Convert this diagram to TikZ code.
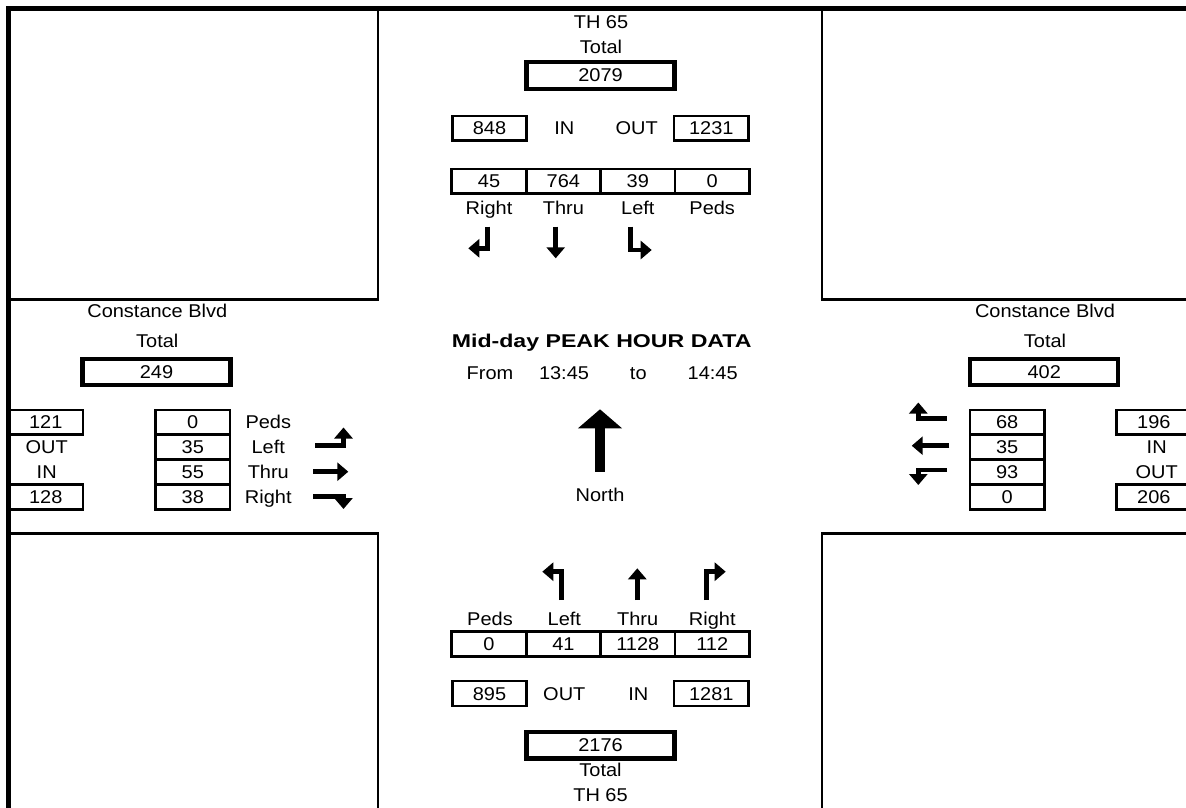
\documentclass[tikz,border=0pt]{standalone}
\usepackage{fontspec}
\setmainfont[FakeStretch=1.08]{Liberation Sans}
\newfontfamily\titlefont[FakeStretch=1.25]{Liberation Sans}
\usetikzlibrary{arrows.meta}

\tikzset{
  lbl/.style={inner sep=0pt, text height=13pt, text depth=0pt},
  cell/.style={lbl, draw, line width=2.7pt, minimum width=74.4pt, minimum height=24.8pt},
  totalbox/.style={lbl, draw, line width=4.3pt, minimum width=148pt, minimum height=26.5pt},
  turn/.style={line width=4.5pt, -{Triangle[length=11pt,width=18pt]}},
  wall/.style={line width=2.7pt},
  border/.style={line width=5pt}
}

\begin{document}
\begin{tikzpicture}[x=1pt, y=-1pt, font=\fontsize{18.5}{20}\selectfont]
                \useasboundingbox (0,0) rectangle (1186,808);

                \draw[border] (8.5,812) -- (8.5,8.5) -- (1190,8.5);
                \draw[wall] (8.5,299.3) -- (378,299.3) -- (378,8.5);
                \draw[wall] (822,8.5) -- (822,299.3) -- (1190,299.3);
                \draw[wall] (8.5,533.5) -- (378,533.5) -- (378,812);
                \draw[wall] (1190,533.5) -- (822,533.5) -- (822,812);

                \node[lbl] (nName) at (601,22) {TH 65};
                \node[lbl] (nTotalLbl) at (601,47.5) {Total};
                \node[totalbox] (nTotal) at (600.5,75.4) {2079};
                \node[cell] (nIn) at (489.5,128.3) {848};
                \node[lbl] (nInLbl) at (564.3,128.3) {IN};
                \node[lbl] (nOutLbl) at (636.7,128.3) {OUT};
                \node[cell] (nOut) at (711.3,128.3) {1231};
                \node[cell] (nRight) at (489,181.4) {45};
                \node[cell] (nThru) at (563.4,181.4) {764};
                \node[cell] (nLeft) at (637.8,181.4) {39};
                \node[cell] (nPeds) at (712.2,181.4) {0};
                \node[lbl] (nRightLbl) at (489,208.3) {Right};
                \node[lbl] (nThruLbl) at (563.4,208.3) {Thru};
                \node[lbl] (nLeftLbl) at (637.8,208.3) {Left};
                \node[lbl] (nPedsLbl) at (712.2,208.3) {Peds};
                \draw[turn] (487.3,226.7) -- (487.3,248.3) -- (468.3,248.3);
                \draw[turn] (555.7,226.7) -- (555.7,258.3);
                \draw[turn] (630.5,226.7) -- (630.5,250) -- (651.7,250);

                \node[lbl] (wName) at (157.3,310.7) {Constance Blvd};
                \node[lbl] (wTotalLbl) at (157.3,340.7) {Total};
                \node[totalbox] (wTotal) at (156.5,372) {249};
                \node[cell] (wOut) at (45.7,422.4) {121};
                \node[lbl] (wOutLbl) at (46.7,447.2) {OUT};
                \node[lbl] (wInLbl) at (46.7,472) {IN};
                \node[cell] (wIn) at (45.7,496.8) {128};
                \node[cell] (wPeds) at (192.8,422.4) {0};
                \node[cell] (wLeft) at (192.8,447.2) {35};
                \node[cell] (wThru) at (192.8,472) {55};
                \node[cell] (wRight) at (192.8,496.8) {38};
                \node[lbl] (wPedsLbl) at (268.3,422.4) {Peds};
                \node[lbl] (wLeftLbl) at (268.3,447.2) {Left};
                \node[lbl] (wThruLbl) at (268.3,472) {Thru};
                \node[lbl] (wRightLbl) at (268.3,496.8) {Right};
                \draw[turn] (315,445.7) -- (343.5,445.7) -- (343.5,427.5);
                \draw[turn] (313.3,471.7) -- (348.3,471.7);
                \draw[turn] (313.3,496.7) -- (343.5,496.7) -- (343.5,509);

                \node[lbl] (eName) at (1045,310.7) {Constance Blvd};
                \node[lbl] (eTotalLbl) at (1045,340.7) {Total};
                \node[totalbox] (eTotal) at (1044.2,372) {402};
                \node[cell] (eRight) at (1007.2,422.4) {68};
                \node[cell] (eThru) at (1007.2,447.2) {35};
                \node[cell] (eLeft) at (1007.2,472) {93};
                \node[cell] (ePeds) at (1007.2,496.8) {0};
                \node[cell] (eIn) at (1153.9,422.4) {196};
                \node[lbl] (eInLbl) at (1156.7,447.2) {IN};
                \node[lbl] (eOutLbl) at (1156.7,472) {OUT};
                \node[cell] (eOut) at (1153.9,496.8) {206};
                \draw[turn] (946.7,418.5) -- (918.3,418.5) -- (918.3,402.5);
                \draw[turn] (949.3,445.7) -- (911.7,445.7);
                \draw[turn] (947,470) -- (918.3,470) -- (918.3,485);

                \node[lbl, font=\titlefont\bfseries\fontsize{18.5}{20}\selectfont] (title) at (601.7,340.7) {Mid-day PEAK HOUR DATA};
                \node[lbl] (from) at (490,373.3) {From};
                \node[lbl] (fromTime) at (564,373.3) {13:45};
                \node[lbl] (to) at (638.3,373.3) {to};
                \node[lbl] (toTime) at (712.7,373.3) {14:45};
                \draw[line width=10pt, -{Triangle[length=19pt,width=43pt]}] (600,471.7) -- (600,409.3);
                \node[lbl] (north) at (600,495) {North};

                \draw[turn] (561.7,600) -- (561.7,571.7) -- (542.3,571.7);
                \draw[turn] (637.3,600) -- (637.3,568.3);
                \draw[turn] (706.7,600) -- (706.7,571.7) -- (725.7,571.7);
                \node[lbl] (sPedsLbl) at (490,619.3) {Peds};
                \node[lbl] (sLeftLbl) at (564.3,619.3) {Left};
                \node[lbl] (sThruLbl) at (637.7,619.3) {Thru};
                \node[lbl] (sRightLbl) at (712.3,619.3) {Right};
                \node[cell] (sPeds) at (489,643.8) {0};
                \node[cell] (sLeft) at (563.4,643.8) {41};
                \node[cell] (sThru) at (637.8,643.8) {1128};
                \node[cell] (sRight) at (712.2,643.8) {112};
                \node[cell] (sOut) at (489.5,693.5) {895};
                \node[lbl] (sOutLbl) at (564.3,693.5) {OUT};
                \node[lbl] (sInLbl) at (638.3,693.5) {IN};
                \node[cell] (sIn) at (711.3,693.5) {1281};
                \node[totalbox] (sTotal) at (600.5,745.3) {2176};
                \node[lbl] (sTotalLbl) at (600.5,770) {Total};
                \node[lbl] (sName) at (600.5,795) {TH 65};
            \end{tikzpicture}
\end{document}
